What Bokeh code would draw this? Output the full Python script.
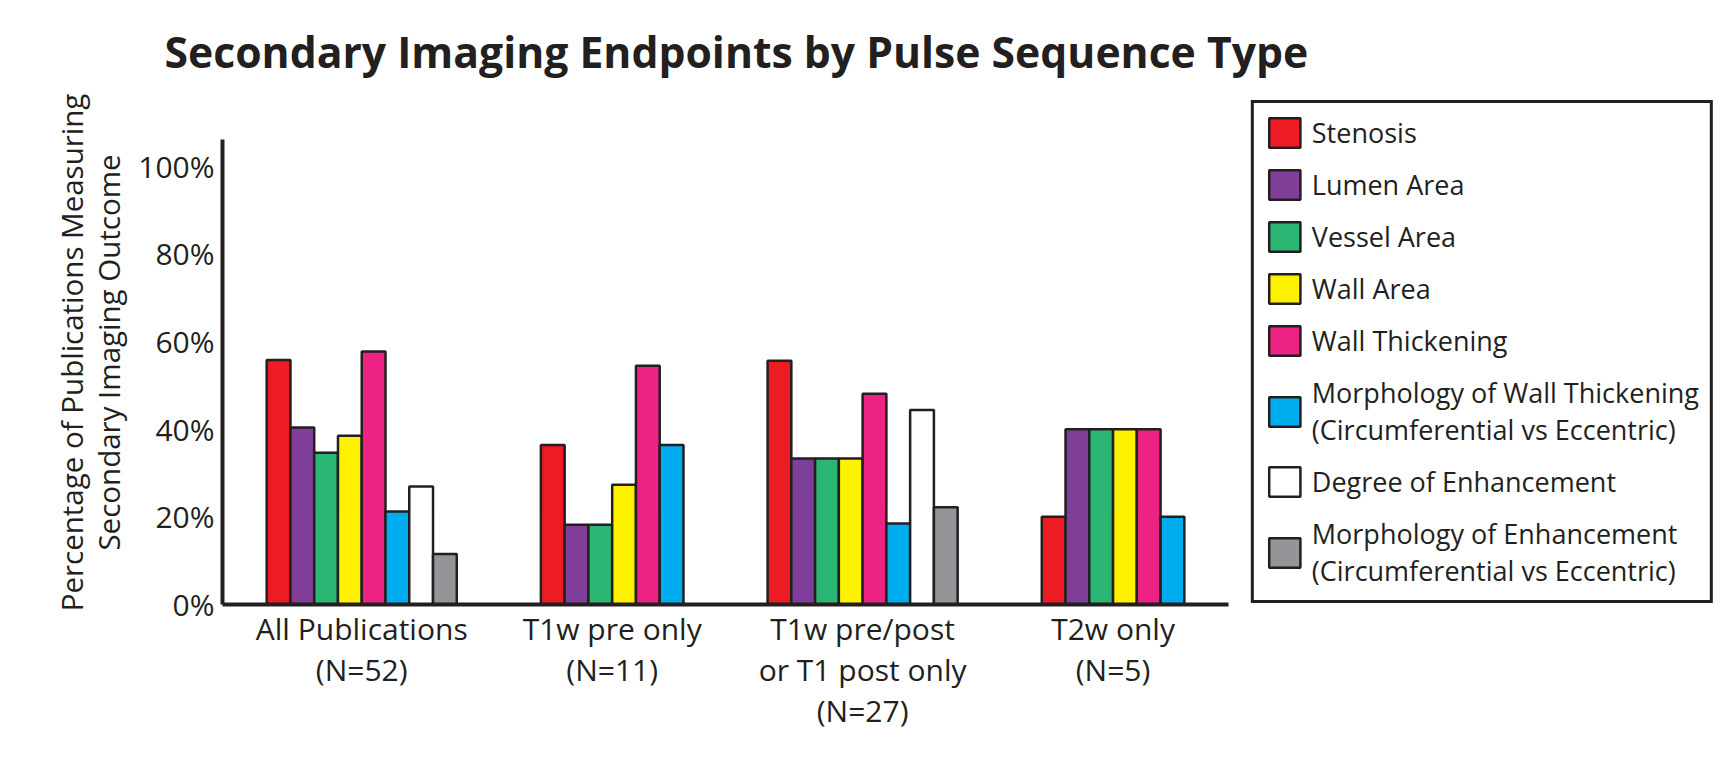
from bokeh.plotting import figure
from bokeh.models import (Range1d, FixedTicker, PrintfTickFormatter, Legend, LegendItem,
                          ColumnDataSource, Title)
from bokeh.embed import file_html
from bokeh.resources import INLINE

# ---------------- data (percent of publications) ----------------
groups = ["All Publications\n(N=52)", "T1w pre only\n(N=11)",
          "T1w pre/post\nor T1 post only\n(N=27)", "T2w only\n(N=5)"]
series_names = ["Stenosis", "Lumen Area", "Vessel Area", "Wall Area", "Wall Thickening",
                "Morphology of Wall Thickening\n(Circumferential vs Eccentric)",
                "Degree of Enhancement",
                "Morphology of Enhancement\n(Circumferential vs Eccentric)"]
stenosis        = [55.8, 36.4, 55.6, 20.0]
lumen_area      = [40.4, 18.2, 33.3, 40.0]
vessel_area     = [34.6, 18.2, 33.3, 40.0]
wall_area       = [38.5, 27.3, 33.3, 40.0]
wall_thickening = [57.7, 54.5, 48.1, 40.0]
morph_wall      = [21.2, 36.4, 18.5, 20.0]
degree_enh      = [26.9, None, 44.4, None]
morph_enh       = [11.5, None, 22.2, None]
y_ticks = [0, 20, 40, 60, 80, 100]

series_values = [stenosis, lumen_area, vessel_area, wall_area, wall_thickening,
                 morph_wall, degree_enh, morph_enh]
colors = ["#ED1C24", "#7F3F98", "#2BB673", "#FFF200", "#EC2385", "#00AEEF",
          "#FFFFFF", "#939598"]
INK = "#231F20"
FONT = "Open Sans"

# ---------------- layout in bar-slot units ----------------
LEFT_PAD, GAP = 1.86, 3.54
counts = [sum(v[g] is not None for v in series_values) for g in range(len(groups))]
starts, pos = [], LEFT_PAD
for c in counts:
    starts.append(pos)
    pos += c + GAP
centers = [s + c / 2 for s, c in zip(starts, counts)]
axis_end = starts[-1] + counts[-1] + LEFT_PAD

p = figure(width=1718, height=748, output_backend="svg", toolbar_location=None,
           x_range=Range1d(0, 62.75), y_range=Range1d(0, 115.0),
           min_border_left=222, min_border_right=5, min_border_top=98,
           min_border_bottom=144)
p.title = Title(text="Secondary Imaging Endpoints by Pulse Sequence Type",
                text_font=FONT, text_font_style="bold", text_font_size="42.7px",
                text_color=INK, align="left", offset=-58, standoff=39)
p.outline_line_color = None
p.xgrid.visible = False
p.ygrid.visible = False
p.background_fill_color = "white"
p.border_fill_color = "white"

items = []
for i, (name, vals, col) in enumerate(zip(series_names, series_values, colors)):
    xs, tops = [], []
    for g, v in enumerate(vals):
        if v is None:
            continue
        xs.append(starts[g] + i + 0.5)
        tops.append(v)
    src = ColumnDataSource(dict(x=xs, top=tops))
    r = p.vbar(x="x", top="top", bottom=0, width=1.0, source=src,
               fill_color=col, line_color=INK, line_width=2.5)
    items.append(LegendItem(label=name, renderers=[r]))

legend = Legend(items=items, location="top_right", margin=0, padding=11, spacing=15,
                glyph_width=39, glyph_height=37, label_standoff=8,
                label_text_font=FONT, label_text_font_size="27px",
                label_text_color=INK, border_line_color=INK, border_line_width=3.5,
                border_line_alpha=1.0,
                background_fill_color="white", background_fill_alpha=1.0)
p.add_layout(legend)

# y axis
ya = p.yaxis[0]
ya.ticker = FixedTicker(ticks=y_ticks)
ya.formatter = PrintfTickFormatter(format="%d%%")
ya.bounds = (0, 106)
ya.axis_line_width = 4
ya.axis_line_color = INK
ya.major_tick_out = 0
ya.major_tick_in = 0
ya.minor_tick_out = 0
ya.minor_tick_in = 0
ya.major_label_standoff = 8
ya.major_label_text_font = FONT
ya.major_label_text_font_size = "30px"
ya.major_label_text_color = INK
ya.axis_label = "Percentage of Publications Measuring\nSecondary Imaging Outcome"
ya.axis_label_text_font = FONT
ya.axis_label_text_font_size = "29.5px"
ya.axis_label_text_font_style = "normal"
ya.axis_label_text_color = INK
ya.axis_label_text_line_height = 0.92
ya.axis_label_standoff = 6

# x axis
xa = p.xaxis[0]
xa.ticker = FixedTicker(ticks=centers)
xa.major_label_overrides = {c: g for c, g in zip(centers, groups)}
xa.bounds = (0, axis_end)
xa.axis_line_width = 4
xa.axis_line_color = INK
xa.major_tick_out = 0
xa.major_tick_in = 0
xa.minor_tick_out = 0
xa.minor_tick_in = 0
xa.major_label_standoff = 3
xa.major_label_text_font = FONT
xa.major_label_text_font_size = "30px"
xa.major_label_text_color = INK
xa.major_label_text_line_height = 1.01

open("out.html", "w").write(file_html(p, INLINE))
